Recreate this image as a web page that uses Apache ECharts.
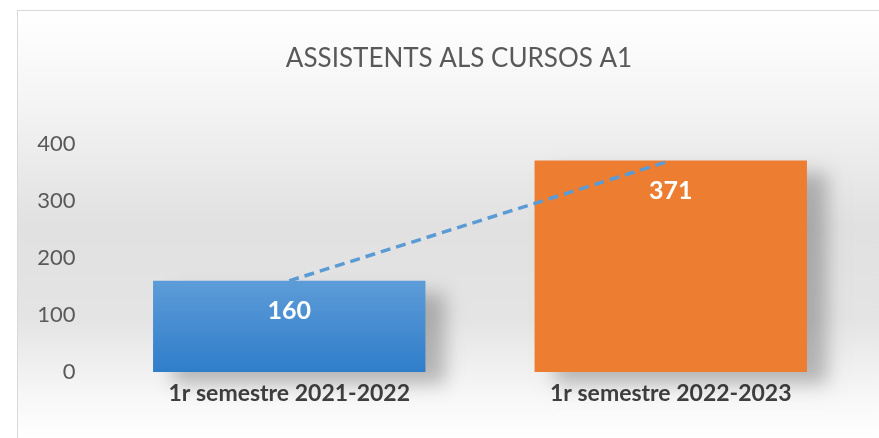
<!DOCTYPE html>
<html>
<head>
<meta charset="utf-8">
<script src="https://cdn.jsdelivr.net/npm/echarts@6/dist/echarts.min.js"></script>
<style>
  html, body { margin: 0; padding: 0; background: #ffffff; }
  #chart {
    position: absolute; left: 17px; top: 10px;
    width: 862px; height: 428px;
    border-left: 1px solid #d9d9d9; border-top: 1px solid #d9d9d9;
  }
</style>
</head>
<body>
<div id="chart"></div>
<script>
// dades del gràfic
const titleText = 'ASSISTENTS ALS CURSOS A1';
const categories = ['1r semestre 2021-2022', '1r semestre 2022-2023'];
const values = [160, 371];
const barColors = ['#5b9bd5', '#ed7d31'];
const yTicks = [0, 100, 200, 300, 400];

const chart = echarts.init(document.getElementById('chart'));

const bg = new echarts.graphic.LinearGradient(0, 0, 0, 1, [
  { offset: 0, color: '#ffffff' },
  { offset: 0.2, color: '#f5f5f5' },
  { offset: 0.5, color: '#e1e1e1' },
  { offset: 0.72, color: '#e4e4e4' },
  { offset: 0.9, color: '#f7f7f7' },
  { offset: 1, color: '#ffffff' }
]);

// barra blava amb degradat, la taronja plena
const barData = values.map((v, i) => {
  let color = barColors[i];
  if (i === 0) {
    color = new echarts.graphic.LinearGradient(0, 0, 0, 1, [
      { offset: 0, color: '#5d9cd8' },
      { offset: 1, color: '#2f7dca' }
    ]);
  }
  return { value: v, itemStyle: { color: color } };
});

const option = {
  backgroundColor: bg,
  animation: false,
  title: {
    text: titleText,
    left: 436,
    top: 30,
    textAlign: 'center',
    textStyle: { fontFamily: 'Lato', fontWeight: 'normal', fontSize: 26, color: '#595959' }
  },
  grid: { left: 80.5, right: 18.5, top: 133, bottom: 67 },
  xAxis: {
    type: 'category',
    data: categories,
    axisLine: { show: false },
    axisTick: { show: false },
    axisLabel: {
      margin: 10,
      fontFamily: 'Lato', fontWeight: 'bold', fontSize: 23, color: '#404040'
    }
  },
  yAxis: {
    type: 'value',
    min: yTicks[0],
    max: yTicks[yTicks.length - 1],
    interval: 100,
    splitLine: { show: false },
    axisLine: { show: false },
    axisTick: { show: false },
    axisLabel: { margin: 23, fontFamily: 'Lato', fontSize: 22, color: '#595959' }
  },
  series: [
    {
      type: 'bar',
      data: barData,
      barWidth: '71.4%',
      itemStyle: {
        shadowColor: 'rgba(0,0,0,0.25)',
        shadowBlur: 18,
        shadowOffsetX: 20,
        shadowOffsetY: 12
      },
      label: {
        show: true,
        position: 'insideTop',
        distance: 18,
        fontFamily: 'Lato', fontWeight: 'bold', fontSize: 25, color: '#ffffff'
      }
    },
    {
      // línia de tendència
      type: 'line',
      data: values,
      symbol: 'none',
      z: 5,
      lineStyle: { color: '#5b9bd5', width: 3.5, type: [10, 6] }
    }
  ]
};

chart.setOption(option);
</script>
</body>
</html>
